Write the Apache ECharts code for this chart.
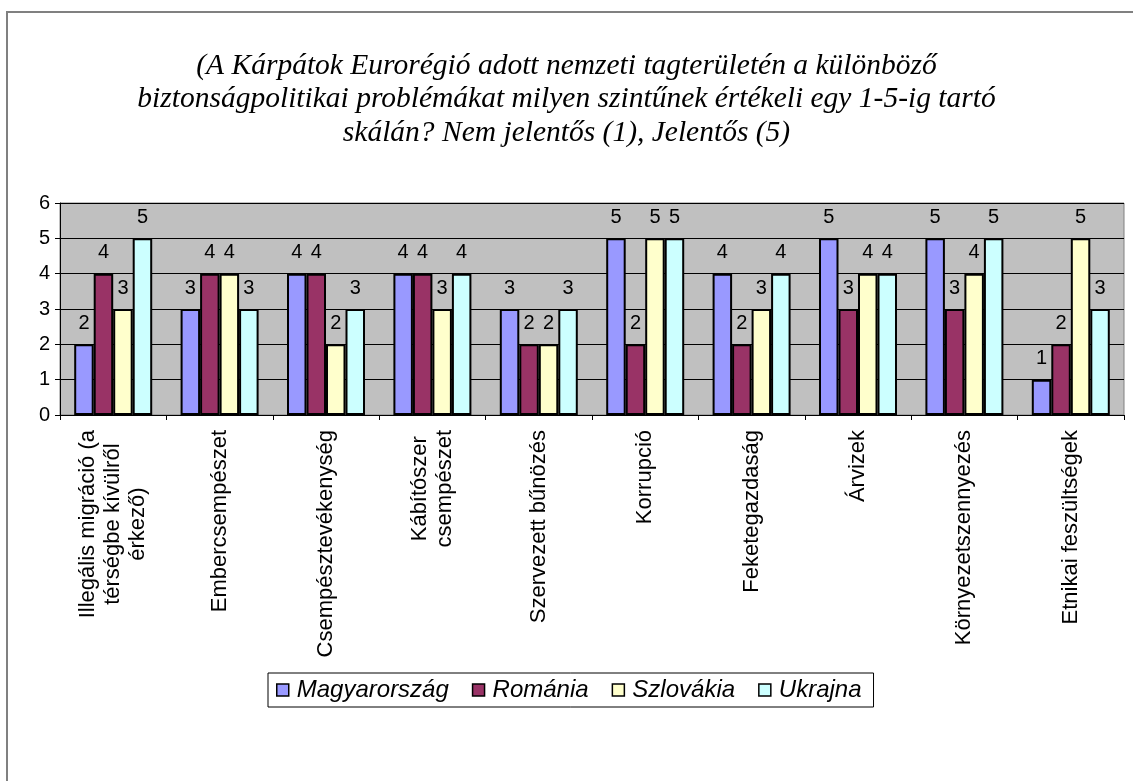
<!DOCTYPE html>
<html>
<head>
<meta charset="utf-8">
<script src="https://cdn.jsdelivr.net/npm/echarts@6/dist/echarts.min.js"></script>
<style>
html,body{margin:0;padding:0;background:#fff;}
#chart{width:1133px;height:781px;}
</style>
</head>
<body>
<div id="chart"></div>
<script>
const titleText = "(A Kárpátok Eurorégió adott nemzeti tagterületén a különböző\nbiztonságpolitikai problémákat milyen szintűnek értékeli egy 1-5-ig tartó\nskálán? Nem jelentős (1), Jelentős (5)";
const categories = [
  "Illegális migráció (a\ntérségbe kívülről\nérkező)",
  "Embercsempészet",
  "Csempésztevékenység",
  "Kábítószer\ncsempészet",
  "Szervezett bűnözés",
  "Korrupció",
  "Feketegazdaság",
  "Árvizek",
  "Környezetszennyezés",
  "Etnikai feszültségek"
];
const seriesNames = ["Magyarország", "Románia", "Szlovákia", "Ukrajna"];
const magyarorszag = [2, 3, 4, 4, 3, 5, 4, 5, 5, 1];
const romania      = [4, 4, 4, 4, 2, 2, 2, 3, 3, 2];
const szlovakia    = [3, 4, 2, 3, 2, 5, 3, 4, 4, 5];
const ukrajna      = [5, 3, 3, 4, 3, 5, 4, 4, 5, 3];
const yTicks = [0, 1, 2, 3, 4, 5, 6];

const colors = ["#9999ff", "#993366", "#ffffcc", "#ccffff"];
const seriesData = [magyarorszag, romania, szlovakia, ukrajna];

const chart = echarts.init(document.getElementById('chart'), null, {renderer: 'canvas'});

const sans = '"Liberation Sans", Arial, sans-serif';

const series = seriesNames.map((name, i) => ({
  name: name,
  type: 'bar',
  data: seriesData[i],
  barWidth: 19.5,
  barGap: '0%',
  itemStyle: { color: colors[i], borderColor: '#000', borderWidth: 2 },
  label: {
    show: true, position: 'top', distance: 11,
    color: '#000', fontFamily: sans, fontSize: 20
  },
  emphasis: { disabled: true }
}));

chart.setOption({
  animation: false,
  backgroundColor: '#fff',
  color: colors,
  title: {
    text: titleText,
    left: 'center',
    top: 44,
    textStyle: {
      fontFamily: '"Liberation Serif", "Times New Roman", serif',
      fontStyle: 'italic', fontWeight: 'normal',
      fontSize: 29.5, lineHeight: 33.5, color: '#000'
    }
  },
  graphic: [{
    type: 'rect',
    shape: { x: 7, y: 12, width: 1140, height: 790 },
    style: { fill: 'none', stroke: '#808080', lineWidth: 2 },
    silent: true, z: -10
  }],
  legend: {
    data: seriesNames,
    left: 268,
    top: 673,
    orient: 'horizontal',
    icon: 'rect',
    itemWidth: 12,
    itemHeight: 12,
    itemGap: 23,
    padding: [5, 12, 5, 8],
    borderColor: '#000',
    borderWidth: 1,
    itemStyle: { borderColor: '#000', borderWidth: 1.5 },
    textStyle: {
      fontFamily: sans, fontStyle: 'italic', fontSize: 24, color: '#000', padding: [0,0,0,3]
    }
  },
  grid: {
    left: 60, top: 203, right: 9, bottom: 366,
    show: true, backgroundColor: '#c0c0c0', borderColor: '#808080', borderWidth: 1
  },
  xAxis: {
    type: 'category',
    data: categories,
    boundaryGap: true,
    axisLine: { show: true, lineStyle: { color: '#000', width: 1 } },
    axisTick: { show: true, length: 5, alignWithLabel: false, lineStyle: { color: '#000' } },
    axisLabel: {
      interval: 0, rotate: 90, margin: 15,
      fontFamily: sans, fontSize: 22, color: '#000', lineHeight: 25,
      formatter: function (v) {
        return v.split('\n').map(s => '{c|' + s + '}').join('\n');
      },
      rich: { c: { align: 'center', fontFamily: sans, fontSize: 22, color: '#000', lineHeight: 25 } }
    },
    splitLine: { show: false }
  },
  yAxis: {
    type: 'value',
    min: 0, max: 6, interval: 1,
    axisLine: { show: true, lineStyle: { color: '#000', width: 1 } },
    axisTick: { show: true, length: 5, lineStyle: { color: '#000' } },
    axisLabel: {
      fontFamily: sans, fontSize: 20, color: '#000', margin: 10,
      formatter: function (v) { return yTicks.indexOf(v) >= 0 ? String(v) : ''; }
    },
    splitLine: { show: true, lineStyle: { color: '#000', width: 1 } }
  },
  series: series
});
</script>
</body>
</html>
